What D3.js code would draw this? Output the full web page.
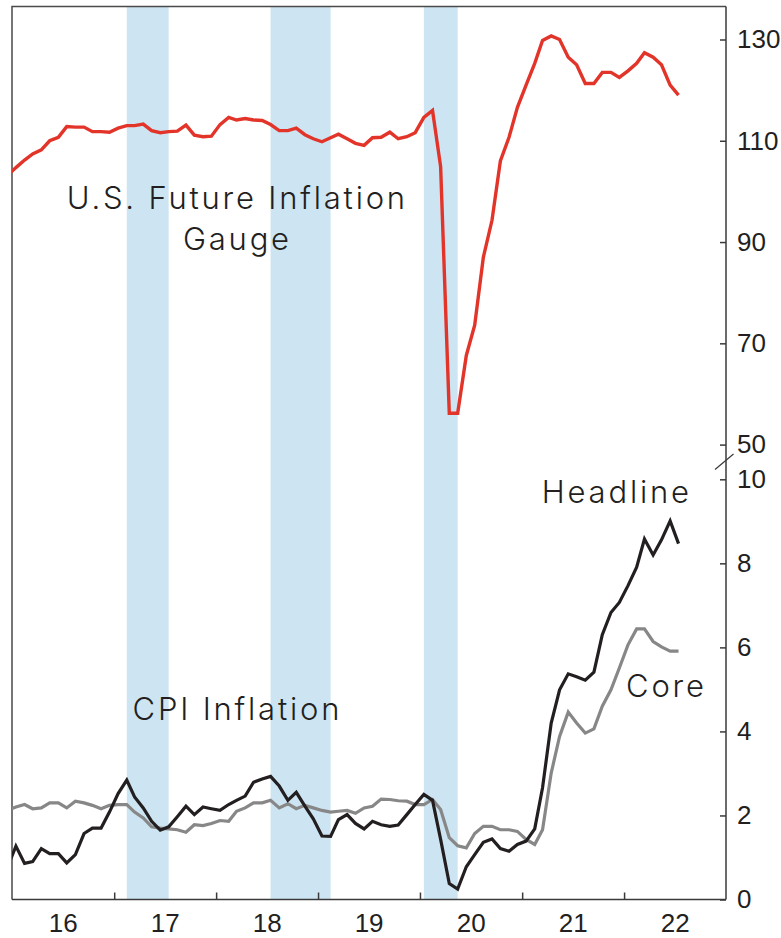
<!DOCTYPE html>
<html>
<head>
<meta charset="utf-8">
<script src="https://cdn.jsdelivr.net/npm/d3@7"></script>
<style>
  body { margin: 0; background: #fff; }
  svg { display: block; font-family: Lato, "Open Sans", sans-serif; }
  .axis text { font-size: 26px; fill: #231f20; font-weight: 300; }
  .axis path, .axis line { stroke: #3a3a3a; stroke-width: 1.5; }
  .label { font-family: Inter, Lato, sans-serif; font-size: 31px; font-weight: 300; letter-spacing: 2.8px; fill: #231f20; }
</style>
</head>
<body>
<div id="chart"></div>
<script>
// monthly values, Dec 2015 .. Jul 2022
const firstMonth = '2015-12'
const gauge = [
  103.1,
  104.7, 106.2, 107.4, 108.2, 110.0, 110.7, 112.8, 112.7, 112.7, 111.8, 111.8, 111.7,
  112.5, 113.0, 113.0, 113.3, 112.0, 111.6, 111.8, 111.9, 113.1, 111.1, 110.8, 110.9,
  113.2, 114.6, 114.1, 114.4, 114.1, 114.0, 113.2, 112.0, 112.0, 112.5, 111.2, 110.4,
  109.8, 110.6, 111.3, 110.4, 109.5, 109.1, 110.6, 110.7, 111.7, 110.4, 110.8, 111.6,
  114.6, 116.0, 104.9, 56.2, 56.2, 67.6, 73.6, 87.0, 94.3, 106.0, 110.7, 116.6,
  121.0, 125.3, 129.8, 130.7, 130.0, 126.5, 125.0, 121.3, 121.3, 123.5, 123.5, 122.5,
  123.8, 125.3, 127.4, 126.5, 125.0, 121.0, 119.0,
]
const headline = [
  0.75,
  1.27, 0.86, 0.90, 1.21, 1.09, 1.09, 0.87, 1.07, 1.57, 1.70, 1.70, 2.08,
  2.52, 2.84, 2.44, 2.18, 1.86, 1.65, 1.73, 1.97, 2.22, 2.02, 2.20, 2.16,
  2.12, 2.26, 2.36, 2.46, 2.79, 2.87, 2.93, 2.70, 2.36, 2.55, 2.22, 1.92,
  1.51, 1.50, 1.90, 2.02, 1.81, 1.68, 1.86, 1.78, 1.74, 1.77, 2.02, 2.26,
  2.50, 2.36, 1.43, 0.38, 0.25, 0.78, 1.07, 1.36, 1.44, 1.21, 1.15, 1.31,
  1.39, 1.68, 2.66, 4.20, 4.99, 5.37, 5.30, 5.22, 5.41, 6.30, 6.83, 7.07,
  7.47, 7.91, 8.58, 8.20, 8.56, 9.01, 8.47,
]
const core = [
  2.12,
  2.20, 2.26, 2.16, 2.18, 2.30, 2.30, 2.18, 2.34, 2.30, 2.24, 2.16, 2.24,
  2.26, 2.26, 2.08, 1.94, 1.73, 1.70, 1.68, 1.66, 1.60, 1.78, 1.76, 1.81,
  1.88, 1.86, 2.10, 2.18, 2.30, 2.30, 2.36, 2.18, 2.28, 2.16, 2.24, 2.18,
  2.12, 2.08, 2.10, 2.12, 2.05, 2.18, 2.22, 2.39, 2.38, 2.35, 2.34, 2.26,
  2.26, 2.38, 2.14, 1.47, 1.28, 1.23, 1.57, 1.74, 1.74, 1.66, 1.66, 1.62,
  1.43, 1.31, 1.66, 3.01, 3.88, 4.46, 4.20, 3.96, 4.06, 4.60, 4.99, 5.51,
  6.06, 6.44, 6.44, 6.14, 6.01, 5.91, 5.91,
]
// shaded periods (mid-month to mid-month)
const bands = [
  ['2017-02', '2017-07'],
  ['2018-07', '2019-02'],
  ['2020-01', '2020-05'],
]
const yearLabels = ['16', '17', '18', '19', '20', '21', '22']
const gaugeTicks = [130, 110, 90, 70, 50]
const cpiTicks = [10, 8, 6, 4, 2, 0]

const width = 781
const height = 938
const plot = { left: 12, right: 726, top: 6.5, bottom: 899.5 }

const parseMonth = d3.timeParse('%Y-%m')
const midMonth = s => d3.timeDay.offset(parseMonth(s), 14)
const start = parseMonth(firstMonth)
const months = gauge.map((_, i) => d3.timeDay.offset(d3.timeMonth.offset(start, i), 14))

const x = d3.scaleTime()
  .domain([new Date(2016, 0, 1), new Date(2023, 0, 1)])
  .range([plot.left, plot.right])
const yTop = d3.scaleLinear().domain([50, 130]).range([444.6, 39.5])
const yBot = d3.scaleLinear().domain([0, 10]).range([899.5, 479.3])

const svg = d3.select('#chart').append('svg')
  .attr('width', width)
  .attr('height', height)

svg.append('clipPath').attr('id', 'clip')
  .append('rect')
  .attr('x', plot.left).attr('y', plot.top)
  .attr('width', plot.right - plot.left)
  .attr('height', plot.bottom - plot.top)

// shading
svg.append('g').selectAll('rect').data(bands).join('rect')
  .attr('x', d => x(midMonth(d[0])))
  .attr('width', d => x(midMonth(d[1])) - x(midMonth(d[0])))
  .attr('y', plot.top)
  .attr('height', plot.bottom - plot.top)
  .attr('fill', '#cde5f2')

// frame (left + top)
svg.append('path')
  .attr('d', `M${plot.left},${plot.bottom}V${plot.top}H${plot.right}`)
  .attr('fill', 'none')
  .attr('stroke', '#4a4a4a')
  .attr('stroke-width', 1.5)

const lines = svg.append('g').attr('clip-path', 'url(#clip)')
const drawLine = (values, y, color, w) => {
  lines.append('path')
    .datum(values)
    .attr('fill', 'none')
    .attr('stroke', color)
    .attr('stroke-width', w)
    .attr('stroke-linejoin', 'miter')
    .attr('d', d3.line().x((d, i) => x(months[i])).y(d => y(d)))
}
drawLine(gauge, yTop, '#e3342a', 3.4)
drawLine(core, yBot, '#878787', 3.2)
drawLine(headline, yBot, '#231f20', 3.2)

// right axes
const rightTop = svg.append('g').attr('class', 'axis')
  .attr('transform', `translate(${plot.right},0)`)
  .call(d3.axisRight(yTop).tickValues(gaugeTicks).tickSizeInner(-6).tickSizeOuter(0).tickPadding(11))
rightTop.select('.domain').remove()
const rightBot = svg.append('g').attr('class', 'axis')
  .attr('transform', `translate(${plot.right},0)`)
  .call(d3.axisRight(yBot).tickValues(cpiTicks).tickSizeInner(-6).tickSizeOuter(0).tickPadding(11))
rightBot.select('.domain').remove()

svg.append('line')
  .attr('x1', plot.right).attr('x2', plot.right)
  .attr('y1', plot.top).attr('y2', plot.bottom)
  .attr('stroke', '#3a3a3a').attr('stroke-width', 1.5)

// axis break mark
svg.append('line')
  .attr('x1', 715).attr('y1', 469.5)
  .attr('x2', 733.5).attr('y2', 454)
  .attr('stroke', '#3a3a3a').attr('stroke-width', 1.2)

// bottom axis: year boundary ticks + mid-year labels
const xTicks = svg.append('g').attr('class', 'axis')
  .attr('transform', `translate(0,${plot.bottom})`)
  .call(d3.axisBottom(x)
    .tickValues(d3.range(2017, 2023).map(yr => new Date(yr, 0, 1)))
    .tickSizeInner(-7).tickSizeOuter(0).tickFormat(''))
xTicks.select('.domain').attr('d', `M${plot.left},0H${plot.right}`)

const xLabels = svg.append('g').attr('class', 'axis')
  .attr('transform', `translate(0,${plot.bottom})`)
  .call(d3.axisBottom(x)
    .tickValues(yearLabels.map(s => new Date(2000 + +s, 6, 1)))
    .tickSize(0).tickPadding(14)
    .tickFormat((d, i) => yearLabels[i]))
xLabels.select('.domain').remove()

// series labels (letter-spacing trails the last glyph, so nudge by it)
const ls = 2.8
const label = (txt, lx, ly, anchor = 'middle') =>
  svg.append('text').attr('class', 'label')
    .attr('x', lx + (anchor === 'end' ? ls : ls / 2)).attr('y', ly)
    .attr('text-anchor', anchor)
    .text(txt)
label('U.S. Future Inflation', 236, 209)
label('Gauge', 236, 250)
label('CPI Inflation', 236, 720)
label('Headline', 689, 503, 'end')
label('Core', 704, 697, 'end')
</script>
</body>
</html>
